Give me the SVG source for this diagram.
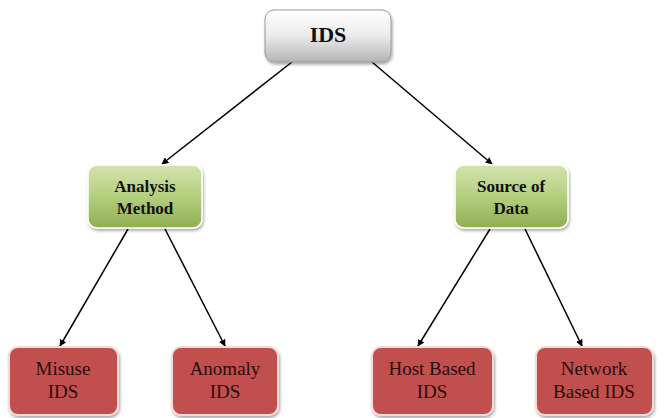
<svg xmlns="http://www.w3.org/2000/svg" width="664" height="418" viewBox="0 0 664 418">
<defs>
<linearGradient id="gGray" x1="0" y1="0" x2="0" y2="1"><stop offset="0" stop-color="#ffffff"/><stop offset="0.5" stop-color="#ebebeb"/><stop offset="1" stop-color="#b4b4b4"/></linearGradient>
<linearGradient id="gGreen" x1="0" y1="0" x2="0" y2="1"><stop offset="0" stop-color="#d3e3ad"/><stop offset="0.5" stop-color="#b5cf7f"/><stop offset="1" stop-color="#8fae52"/></linearGradient>
<filter id="sh" x="-10%" y="-10%" width="130%" height="140%"><feDropShadow dx="1" dy="2" stdDeviation="1.5" flood-color="#000" flood-opacity="0.35"/></filter>
<marker id="arr" viewBox="0 0 10 10" refX="9" refY="5" markerWidth="7" markerHeight="7" orient="auto" markerUnits="userSpaceOnUse"><path d="M0,0 L10,5 L0,10 z" fill="#000"/></marker>
</defs>
<style>
.gray{fill:url(#gGray);stroke:#9a9a9a;stroke-width:1;filter:url(#sh)}
.green{fill:url(#gGreen);stroke:#ffffff;stroke-width:1.5;filter:url(#sh)}
.red{fill:#c0504d;stroke:#f2dcdb;stroke-width:2;filter:url(#sh)}
text{font-family:'Liberation Serif','DejaVu Serif',serif;text-anchor:middle}
.tb{font-weight:bold;fill:#111}
.tr{fill:#2a0d0d;font-size:19px}
.conn line{stroke:#000;stroke-width:1.5;marker-end:url(#arr)}
</style>
<rect width="664" height="418" fill="#fff"/>
<g class="conn" id="connectors">
<line x1="292" y1="62" x2="162" y2="164"/>
<line x1="372" y1="62" x2="492" y2="164"/>
<line x1="128" y1="229" x2="60" y2="346"/>
<line x1="165" y1="229" x2="225" y2="346"/>
<line x1="490" y1="229" x2="418" y2="346"/>
<line x1="525" y1="229" x2="582" y2="346"/>
</g>
<g id="ids"><rect class="gray" x="265" y="10" width="126" height="52" rx="9"/><text class="tb" x="328" y="42" font-size="22">IDS</text></g>
<g id="analysis"><rect class="green" x="88" y="165" width="114" height="63" rx="9"/><text class="tb" x="145" y="192" font-size="17">Analysis</text><text class="tb" x="145" y="214" font-size="17">Method</text></g>
<g id="source"><rect class="green" x="455" y="165" width="113" height="63" rx="9"/><text class="tb" x="511" y="192" font-size="17">Source of</text><text class="tb" x="511" y="214" font-size="17">Data</text></g>
<g id="misuse"><rect class="red" x="9" y="347" width="109" height="68" rx="9"/><text class="tr" x="63" y="375">Misuse</text><text class="tr" x="63" y="398">IDS</text></g>
<g id="anomaly"><rect class="red" x="172" y="347" width="106" height="68" rx="9"/><text class="tr" x="225" y="375">Anomaly</text><text class="tr" x="225" y="398">IDS</text></g>
<g id="host"><rect class="red" x="372" y="347" width="121" height="68" rx="9"/><text class="tr" x="432" y="375">Host Based</text><text class="tr" x="432" y="398">IDS</text></g>
<g id="network"><rect class="red" x="536" y="347" width="117" height="68" rx="9"/><text class="tr" x="594" y="375">Network</text><text class="tr" x="594" y="398">Based IDS</text></g>
</svg>
